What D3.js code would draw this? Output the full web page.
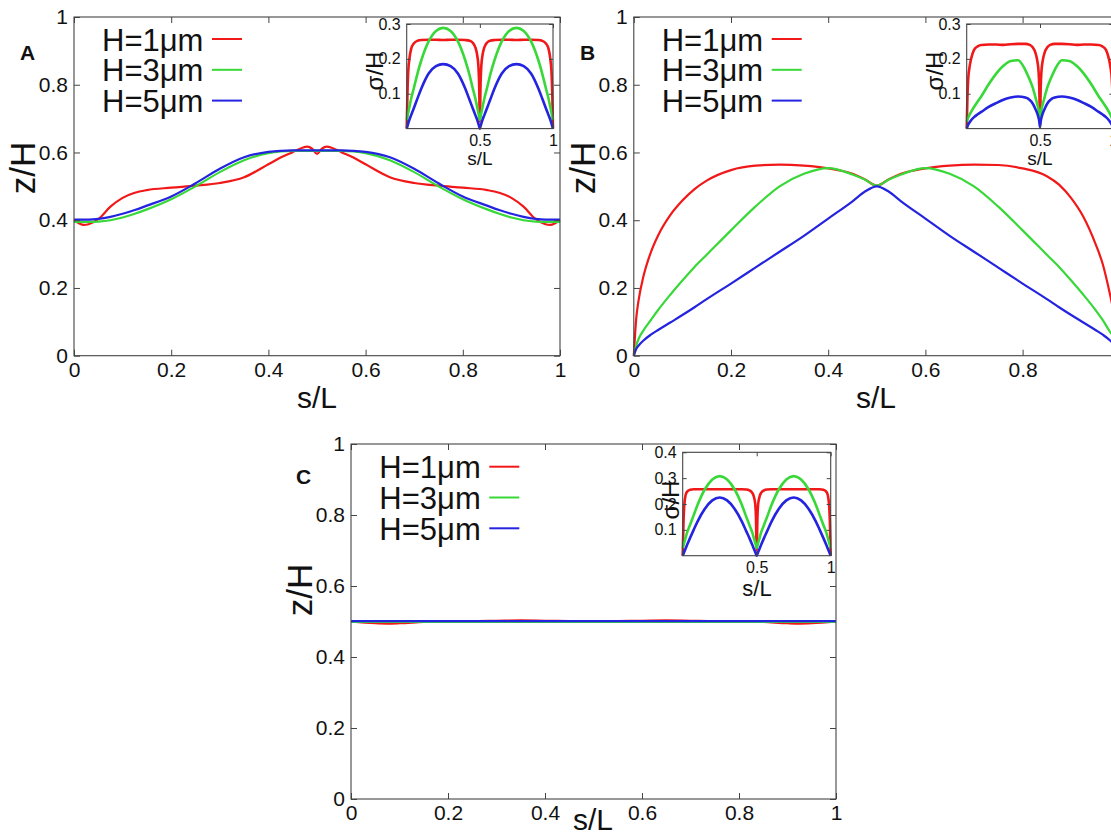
<!DOCTYPE html>
<html>
<head>
<meta charset="utf-8">
<script src="https://cdn.jsdelivr.net/npm/d3@7"></script>
<style>
    body { margin: 0; background: #fff; }
    svg { display: block; }
    text { font-family: "Liberation Sans", Arial, Helvetica, sans-serif; fill: #111; }
</style>
</head>
<body>
<svg id="fig" width="1111" height="837"></svg>
<script>
// ---- data ----

// panel A (z/H against s/L)
const sA = [0, .01, .02, .03, .05, .075, .1, .125, .15, .2, .25, .3, .35, .4, .425, .45, .46, .47, .48, .49, .5,
            .51, .52, .53, .54, .55, .575, .6, .65, .7, .75, .8, .85, .875, .9, .925, .95, .97, .98, .99, 1];
const redA = [.400, .391, .386, .388, .403, .440, .466, .481, .489, .496, .502, .510, .527, .565, .585, .601, .608, .614, .617, .611, .596,
              .611, .617, .614, .608, .601, .585, .565, .527, .510, .502, .496, .489, .481, .466, .440, .403, .388, .386, .391, .400];
const greenA = [.395, .395, .395, .395, .396, .400, .408, .419, .432, .462, .500, .542, .577, .598, .603, .605, .605, .605, .605, .605, .605,
                .605, .605, .605, .605, .605, .603, .598, .577, .542, .500, .462, .432, .419, .408, .400, .396, .395, .395, .395, .395];
const blueA = [.402, .402, .402, .402, .404, .410, .419, .430, .443, .470, .509, .552, .586, .602, .605, .606, .606, .606, .606, .606, .606,
               .606, .606, .606, .606, .606, .605, .602, .586, .552, .509, .470, .443, .430, .419, .410, .404, .402, .402, .402, .402];

// panel B
const sB = [0, .005, .01, .02, .035, .05, .075, .1, .125, .15, .2, .25, .3, .35, .4, .45, .475, .5,
            .525, .55, .6, .65, .7, .75, .8, .85, .875, .9, .925, .95, .965, .98, .99, .995, 1];
const redB = [0, .11, .165, .235, .305, .355, .415, .458, .492, .517, .548, .561, .564, .561, .553, .537, .521, .502,
              .521, .537, .553, .561, .564, .563, .553, .530, .505, .465, .410, .330, .270, .180, .110, .070, 0];
const greenB = [0, .03, .05, .075, .105, .135, .18, .222, .262, .298, .37, .44, .50, .537, .554, .535, .52, .502,
                .52, .535, .554, .537, .50, .44, .37, .298, .262, .222, .18, .135, .105, .07, .05, .03, 0];
const blueB = [0, .02, .03, .045, .062, .076, .098, .120, .143, .167, .213, .260, .307, .354, .405, .456, .484, .500,
               .484, .456, .405, .354, .307, .260, .213, .167, .143, .120, .098, .076, .062, .045, .03, .02, 0];

// panel C
const sC = [0, .05, .075, .1, .15, .2, .25, .3, .35, .4, .45, .5, .55, .6, .65, .7, .75, .8, .85, .9, .925, .95, 1];
const redC = [.500, .495, .494, .495, .499, .501, .501, .502, .503, .502, .501, .500, .501, .502, .503, .502, .501, .501, .499, .495, .494, .495, .500];
const greenC = [.499, .499, .499, .499, .499, .499, .499, .499, .499, .499, .499, .499, .499, .499, .499, .499, .499, .499, .499, .499, .499, .499, .499];
const blueC = [.501, .501, .501, .501, .501, .501, .501, .501, .501, .501, .501, .501, .501, .501, .501, .501, .501, .501, .501, .501, .501, .501, .501];

// insets (sigma/H against s/L)
const sI = [0, .005, .01, .02, .03, .05, .075, .1, .15, .2, .25, .3, .35, .4, .43, .45, .47, .48, .49, .495, .5,
            .505, .51, .52, .53, .55, .57, .6, .65, .7, .75, .8, .85, .9, .925, .95, .97, .98, .99, .995, 1];
const redIA = [0, .10, .16, .205, .228, .245, .252, .254, .255, .255, .254, .255, .255, .254, .252, .247, .232, .215, .18, .13, .02,
               .13, .18, .215, .232, .247, .252, .254, .255, .255, .254, .255, .255, .254, .252, .245, .228, .205, .16, .10, 0];
const greenIA = [.025, .035, .045, .065, .085, .118, .160, .196, .250, .280, .289, .280, .250, .196, .153, .118, .085, .065, .045, .035, .025,
                 .035, .045, .065, .085, .118, .153, .196, .250, .280, .289, .280, .250, .196, .160, .118, .085, .065, .045, .035, .025];
const blueIA = [0, .007, .014, .027, .038, .060, .088, .115, .158, .179, .185, .179, .158, .115, .082, .060, .038, .027, .014, .007, 0,
                .007, .014, .027, .038, .060, .082, .115, .158, .179, .185, .179, .158, .115, .088, .060, .038, .027, .014, .007, 0];

const redIB = [0, .09, .14, .178, .20, .226, .236, .240, .241, .241, .240, .242, .243, .243, .240, .233, .216, .198, .165, .12, .02,
               .12, .165, .198, .216, .233, .240, .243, .243, .242, .240, .241, .241, .240, .236, .226, .20, .178, .14, .09, 0];
const greenIB = [.02, .026, .031, .04, .048, .062, .078, .093, .127, .157, .180, .194, .196, .168, .14, .118, .088, .072, .055, .043, .03,
                 .043, .055, .072, .088, .118, .14, .168, .196, .194, .180, .157, .127, .093, .078, .062, .048, .04, .031, .026, .02];
const blueIB = [0, .006, .011, .018, .024, .033, .041, .048, .062, .073, .083, .089, .092, .089, .082, .072, .055, .045, .031, .021, .005,
                .021, .031, .045, .055, .072, .082, .089, .092, .089, .083, .073, .062, .048, .041, .033, .024, .018, .011, .006, 0];

const redIC = [0, .12, .19, .235, .248, .255, .257, .257, .257, .257, .257, .257, .257, .257, .256, .253, .243, .23, .2, .15, .02,
               .15, .2, .23, .243, .253, .256, .257, .257, .257, .257, .257, .257, .257, .257, .255, .248, .235, .19, .12, 0];
const greenIC = [.03, .04, .05, .07, .09, .12, .158, .196, .257, .295, .308, .295, .257, .196, .15, .12, .09, .07, .05, .04, .03,
                 .04, .05, .07, .09, .12, .15, .196, .257, .295, .308, .295, .257, .196, .158, .12, .09, .07, .05, .04, .03];
const blueIC = [0, .007, .014, .028, .042, .069, .101, .132, .182, .214, .225, .214, .182, .132, .094, .069, .042, .028, .014, .007, 0,
                .007, .014, .028, .042, .069, .094, .132, .182, .214, .225, .214, .182, .132, .101, .069, .042, .028, .014, .007, 0];

const seriesNames = ["H=1\u03bcm", "H=3\u03bcm", "H=5\u03bcm"];
const seriesColors = ["#f01818", "#38d838", "#2424e0"];

const mainTicks = [0, 0.2, 0.4, 0.6, 0.8, 1];
const insetXTicks = [0.5, 1];
const insetYTicksAB = [0.1, 0.2, 0.3];
const insetYTicksC = [0.1, 0.2, 0.3, 0.4];

// ---- layout ----
const panels = [
    { label: "A", x0: 74, x1: 560, y0: 17, y1: 355.7, s: sA, series: [redA, greenA, blueA],
      labelPos: [20, 60], yLab: [35, 168], xLab: [317, 408], legend: [102, 39],
      inset: { x0: 406.7, x1: 553, y0: 24, y1: 128.6, ymax: 0.3, yticks: insetYTicksAB,
               series: [redIA, greenIA, blueIA], yLab: [383, 71], xLab: [480, 165], xLabSize: 19 } },
    { label: "B", x0: 633.8, x1: 1119.8, y0: 17, y1: 355.7, s: sB, series: [redB, greenB, blueB],
      labelPos: [580, 60], yLab: [595, 168], xLab: [876, 408], legend: [661.7, 39],
      inset: { x0: 966.7, x1: 1113.3, y0: 24, y1: 128.6, ymax: 0.3, yticks: insetYTicksAB,
               series: [redIB, greenIB, blueIB], yLab: [943, 71], xLab: [1040, 165], xLabSize: 19 } },
    { label: "C", x0: 351, x1: 836, y0: 444, y1: 799, s: sC, series: [redC, greenC, blueC],
      labelPos: [296, 484], yLab: [312, 590], xLab: [593, 830], legend: [379.3, 466.7],
      inset: { x0: 682.7, x1: 830.7, y0: 452.3, y1: 555.7, ymax: 0.4, yticks: insetYTicksC,
               series: [redIC, greenIC, blueIC], yLab: [679, 500], xLab: [757, 596], xLabSize: 22 } }
];

let svg = d3.select("#fig");

// Formats tick values the gnuplot way (0, 0.2, ..., 1)
function fmt(d) {
    return String(+d.toFixed(2));
}

// Draws a framed box with inward ticks on all four sides
function drawFrame(parent, x, y, xt, yt, tickLen, fontSize, pad) {
    let g = parent.append("g");
    g.append("g")
     .attr("transform", `translate(0,${y.range()[0]})`)
     .call(d3.axisBottom(x).tickValues(xt).tickSize(-tickLen).tickSizeOuter(0).tickPadding(pad).tickFormat(fmt));
    g.append("g")
     .attr("transform", `translate(0,${y.range()[1]})`)
     .call(d3.axisTop(x).tickValues(xt).tickSize(-tickLen).tickSizeOuter(0).tickFormat(""));
    g.append("g")
     .attr("transform", `translate(${x.range()[0]},0)`)
     .call(d3.axisLeft(y).tickValues(yt).tickSize(-tickLen).tickSizeOuter(0).tickPadding(pad).tickFormat(fmt));
    g.append("g")
     .attr("transform", `translate(${x.range()[1]},0)`)
     .call(d3.axisRight(y).tickValues(yt).tickSize(-tickLen).tickSizeOuter(0).tickFormat(""));

    g.selectAll(".domain").remove();
    g.selectAll("g").attr("font-size", null).attr("font-family", null);
    g.selectAll(".tick line").attr("stroke", "#444").attr("stroke-width", 1);
    g.selectAll(".tick text")
     .attr("fill", "#111")
     .style("font-size", fontSize + "px")
     .style("font-family", "'Liberation Sans', Arial, sans-serif");

    g.append("rect")
     .attr("x", x.range()[0])
     .attr("y", y.range()[1])
     .attr("width", x.range()[1] - x.range()[0])
     .attr("height", y.range()[0] - y.range()[1])
     .attr("fill", "none")
     .attr("stroke", "#444")
     .attr("stroke-width", 1.1);
}

// Draws the three coloured curves
function drawCurves(g, x, y, s, series, width) {
    let line = d3.line()
                 .x(d => x(d[0]))
                 .y(d => y(d[1]))
                 .curve(d3.curveMonotoneX);
    series.forEach((vals, i) => {
        g.append("path")
         .datum(s.map((v, j) => [v, vals[j]]))
         .attr("d", line)
         .attr("fill", "none")
         .attr("stroke", seriesColors[i])
         .attr("stroke-width", width)
         .attr("stroke-linejoin", "round");
    });
}

// Rotated y label / centred x label
function axisLabels(g, yLab, xLab, ySize, xSize, yText) {
    g.append("text")
     .attr("transform", `translate(${yLab[0]},${yLab[1]}) rotate(-90)`)
     .attr("text-anchor", "middle")
     .style("font-size", ySize + "px")
     .text(yText);
    g.append("text")
     .attr("x", xLab[0])
     .attr("y", xLab[1])
     .attr("text-anchor", "middle")
     .style("font-size", xSize + "px")
     .text("s/L");
}

function drawLegend(g, pos) {
    seriesNames.forEach((name, i) => {
        let ly = pos[1] + i * 30.8;
        g.append("text")
         .attr("x", pos[0])
         .attr("y", ly + 11.5)
         .style("font-size", "31px")
         .text(name);
        g.append("line")
         .attr("x1", pos[0] + 110)
         .attr("x2", pos[0] + 140)
         .attr("y1", ly)
         .attr("y2", ly)
         .attr("stroke", seriesColors[i])
         .attr("stroke-width", 2);
    });
}

function drawInset(g, ins) {
    let x = d3.scaleLinear().domain([0, 1]).range([ins.x0, ins.x1]);
    let y = d3.scaleLinear().domain([0, ins.ymax]).range([ins.y1, ins.y0]);
    g.append("rect")
     .attr("x", ins.x0).attr("y", ins.y0)
     .attr("width", ins.x1 - ins.x0).attr("height", ins.y1 - ins.y0)
     .attr("fill", "#fff");
    drawCurves(g, x, y, sI, ins.series, 2.6);
    drawFrame(g, x, y, insetXTicks, ins.yticks, 4, 16, 6);
    axisLabels(g, ins.yLab, ins.xLab, 24, ins.xLabSize, "\u03c3/H");
}

function drawPanel(p) {
    let g = svg.append("g");
    let x = d3.scaleLinear().domain([0, 1]).range([p.x0, p.x1]);
    let y = d3.scaleLinear().domain([0, 1]).range([p.y1, p.y0]);

    drawCurves(g, x, y, p.s, p.series, 2.2);
    drawFrame(g, x, y, mainTicks, mainTicks, 6, 21, 6);
    axisLabels(g, p.yLab, p.xLab, 35, 30, "z/H");
    drawLegend(g, p.legend);
    drawInset(g, p.inset);

    g.append("text")
     .attr("x", p.labelPos[0])
     .attr("y", p.labelPos[1])
     .style("font-size", "21px")
     .attr("font-weight", "bold")
     .text(p.label);
}

panels.forEach(drawPanel);
</script>
</body>
</html>
